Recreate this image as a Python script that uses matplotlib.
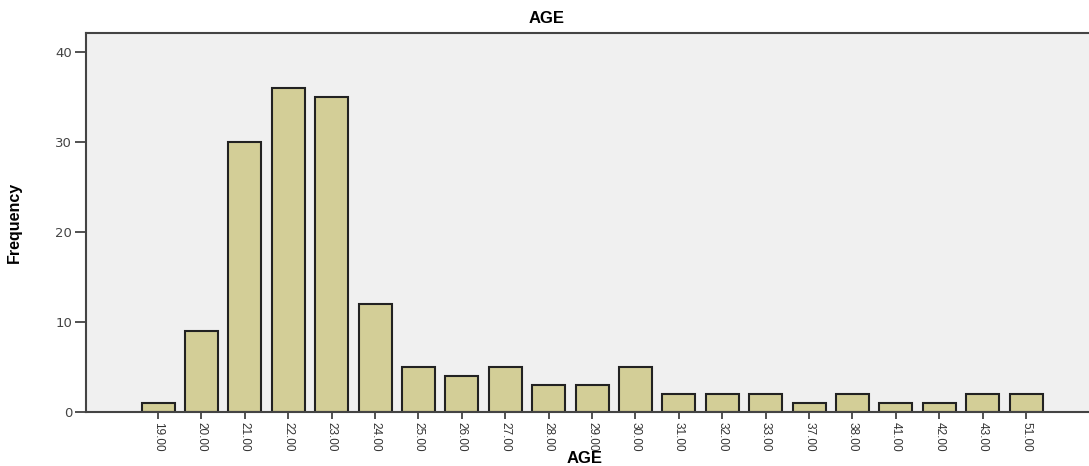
import numpy as np
import matplotlib
matplotlib.use('Agg')
import matplotlib.pyplot as plt

# datos
edades = ['19.00', '20.00', '21.00', '22.00', '23.00', '24.00', '25.00', '26.00',
          '27.00', '28.00', '29.00', '30.00', '31.00', '32.00', '33.00', '37.00',
          '38.00', '41.00', '42.00', '43.00', '51.00']
frecuencias = [1, 9, 30, 36, 35, 12, 5, 4, 5, 3, 3, 5, 2, 2, 2, 1, 2, 1, 1, 2, 2]

fig = plt.figure(figsize=(10.89, 4.66), dpi=100)
ax = fig.add_axes([0.079, 0.116, 0.921, 0.813])
ax.set_facecolor('#f0f0f0')

x = np.arange(len(edades))
ax.bar(x, frecuencias, width=0.76, color='#d3ce97', edgecolor='#222222', linewidth=1.5, zorder=2)

ax.set_xlim(-1.66, 21.45)
ax.set_ylim(0, 42.1)
ax.set_yticks([0, 10, 20, 30, 40])
ax.set_xticks(x)
ax.set_xticklabels(edades, rotation=-90, fontsize=8.5,
                   family=['Liberation Sans Narrow', 'Liberation Sans'], color='#333333')
ax.tick_params(axis='x', length=5, width=1.2, color='#333333', pad=2)
ax.tick_params(axis='y', length=8, width=1.2, color='#333333', labelsize=9.5, labelcolor='#444444', pad=2)

for s in ['left', 'top', 'bottom']:
    ax.spines[s].set_color('#444444')
    ax.spines[s].set_linewidth(1.5)
ax.spines['right'].set_visible(False)

ax.set_ylabel('Frequency', fontsize=11.5, fontweight='bold',
              family=['Liberation Sans Narrow', 'Liberation Sans'], labelpad=24)
fig.text(0.537, 0.016, 'AGE', ha='center', va='center', fontsize=12, fontweight='bold',
         family='Liberation Sans')
fig.text(0.502, 0.96, 'AGE', ha='center', va='center', fontsize=12, fontweight='bold',
         family='Liberation Sans')

plt.savefig('out.png', dpi=100)
